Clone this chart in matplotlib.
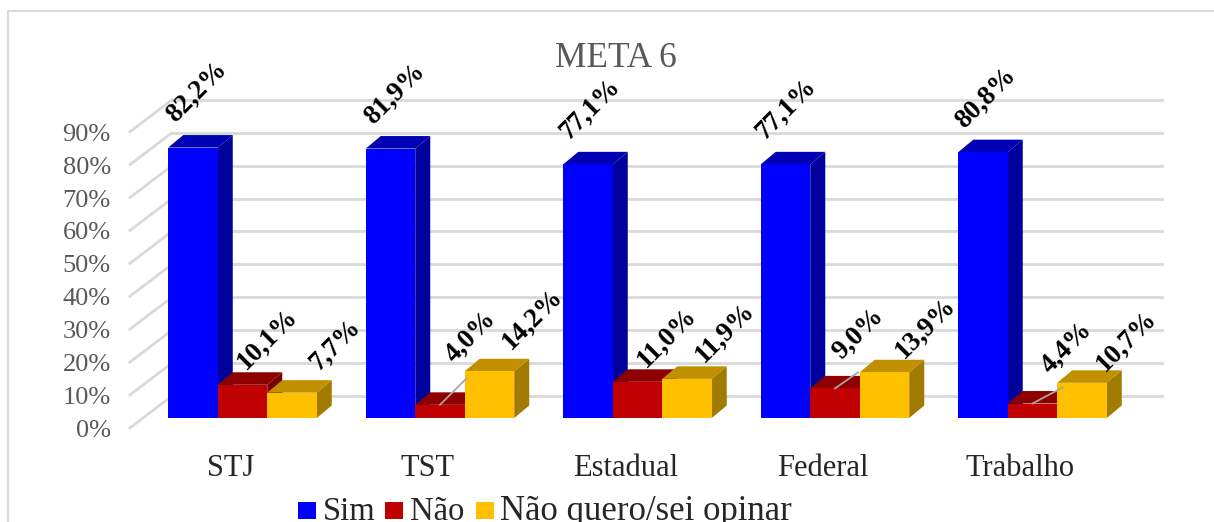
import matplotlib
matplotlib.use('Agg')
import matplotlib.pyplot as plt
from matplotlib.patches import Polygon, Rectangle

plt.rcParams['font.family'] = ['Liberation Serif', 'DejaVu Serif']

# Data
categories = ['STJ', 'TST', 'Estadual', 'Federal', 'Trabalho']
series_names = ['Sim', 'Não', 'Não quero/sei opinar']
sim = [82.2, 81.9, 77.1, 77.1, 80.8]
nao = [10.1, 4.0, 11.0, 9.0, 4.4]
nao_sei = [7.7, 14.2, 11.9, 13.9, 10.7]
y_ticks = [0, 10, 20, 30, 40, 50, 60, 70, 80, 90]

# Pixel layout of the figure, used to set the axis limits
W, H = 1214, 522
group_step = 197.5
first_group = 242.5
base_px = 418
px_per_pct = 3.29
depth_x = 15 / group_step
depth_y = 12.5 / px_per_pct
bar_w = 49.5 / group_step

# front / top / side colours
colors = [('#0000FF', '#0000B4', '#00009C'),
          ('#C00000', '#8E0000', '#7A0000'),
          ('#FFC000', '#C09000', '#A17A00')]

# label offsets from the bar's front top centre, pixels
offsets = [[(4, 56), (4, 55), (2, 55), (1, 55), (3, 54)],
           [(25, 46), (31, 68), (29, 44), (23, 55), (34, 56)],
           [(43, 48), (43, 52), (38, 46), (41, 44), (45, 42)]]

fig = plt.figure(figsize=(W / 100, H / 100), dpi=100)
ax = fig.add_axes([0, 0, 1, 1])
ax.set_xlim(-first_group / group_step, (W - first_group) / group_step)
ax.set_ylim(-(H - base_px) / px_per_pct, base_px / px_per_pct)
ax.axis('off')

# chart border, only top and left are inside the crop
ax.plot([8 / W, 8 / W, 1], [0, 1 - 11 / H, 1 - 11 / H], transform=ax.transAxes,
        color='#D9D9D9', lw=1.5, clip_on=False, zorder=1)

# back wall gridlines and side wall lines
left = -0.357
for t in y_ticks:
    y0 = t + 6.7
    ax.plot([left - 0.213, left], [y0 - 9.7, y0], color='#D9D9D9', lw=2, zorder=1)
    ax.plot([left, 4.655], [y0, y0], color='#D9D9D9', lw=2, zorder=1)
    ax.text(left - 0.31, y0 - 10.6, f'{t}%', ha='right', va='center', fontsize=19, color='#595959')

# bars
for s, values in enumerate([sim, nao, nao_sei]):
    front, top, side = colors[s]
    for i, v in enumerate(values):
        x0 = i + (s - 1.5) * bar_w
        x1 = x0 + bar_w
        ax.add_patch(Polygon([(x1, 0), (x1 + depth_x, depth_y), (x1 + depth_x, v + depth_y), (x1, v)],
                             fc=side, ec='none', zorder=3 + s))
        ax.add_patch(Polygon([(x0, v), (x1, v), (x1 + depth_x, v + depth_y), (x0 + depth_x, v + depth_y)],
                             fc=top, ec='none', zorder=3 + s))
        ax.bar(x0 + bar_w / 2, v, bar_w, color=front, zorder=3 + s)
        dx, dy = offsets[s][i]
        ax.annotate(f'{v:.1f}%'.replace('.', ','), xy=(x0 + bar_w / 2, v), xytext=(dx, dy),
                    textcoords='offset pixels', rotation=45, rotation_mode='anchor',
                    ha='center', va='center', fontsize=19.5, fontweight='bold', color='black', zorder=10)

# leader lines from the small labels
for i, length in [(1, (26, 26)), (3, (23, 16)), (4, (30, 16))]:
    v = nao[i]
    ax.plot([i, i + length[0] / group_step], [v, v + length[1] / px_per_pct],
            color='#A6A6A6', lw=1.3, zorder=9)

# category labels
for i, c in enumerate(categories):
    ax.text(i - 0.062, -15.3, c, ha='center', va='center', fontsize=22, color='#262626')

ax.text(0.5075, 0.888, 'META 6', transform=ax.transAxes, ha='center', va='center',
        fontsize=25.5, color='#595959')

# legend, cut off by the bottom edge as in the original
leg_x = [298, 385, 476]
txt_x = [323, 410, 500]
leg_size = [23.5, 23.5, 25]
for name, col, lx, tx, fs in zip(series_names, colors, leg_x, txt_x, leg_size):
    ax.add_patch(Rectangle((lx / W, 3 / H), 17.5 / W, 17.5 / H, transform=ax.transAxes, fc=col[0], ec='none'))
    ax.text(tx / W, 10 / H, name, transform=ax.transAxes, ha='left', va='center',
            fontsize=fs, color='#262626')

fig.savefig('out.png', dpi=100)
